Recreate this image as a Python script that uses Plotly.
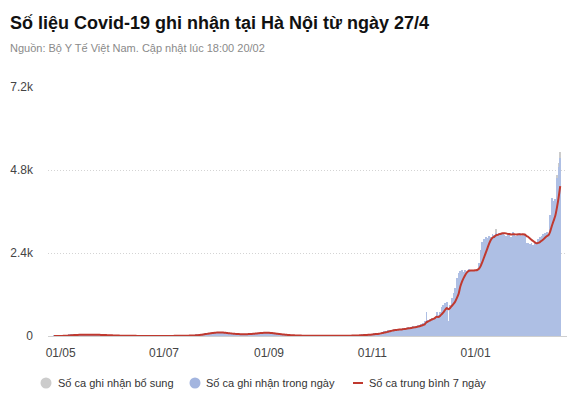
import pandas as pd
import plotly.graph_objects as go

# ---------------- DATA ----------------
start_date = "2021-04-27"

apr = [1, 0, 2, 3]
may = [6, 8, 12, 15, 25, 30, 35, 40, 32, 28, 35, 40, 30, 38, 45, 35, 30, 42, 38, 30,
       25, 35, 28, 30, 22, 25, 20, 18, 22, 15, 12]
jun = [10, 8, 12, 6, 8, 5, 4, 6, 3, 5, 2, 4, 3, 5, 2, 3, 1, 4, 2, 3,
       2, 1, 3, 2, 4, 1, 2, 3, 2, 1]
jul = [3, 2, 4, 5, 3, 6, 4, 8, 6, 10, 7, 12, 9, 14, 11, 18, 15, 22, 25, 30,
       45, 50, 60, 70, 75, 85, 90, 95, 100, 110, 105]
aug = [110, 100, 95, 90, 80, 75, 70, 65, 60, 55, 60, 50, 55, 50, 45, 55, 50, 60, 55, 65,
       70, 75, 80, 85, 90, 95, 100, 95, 105, 90, 85]
sep = [80, 70, 65, 55, 50, 45, 40, 35, 30, 28, 25, 20, 18, 15, 14, 12, 10, 9, 8, 10,
       7, 6, 8, 5, 6, 4, 7, 5, 3, 6]
oct_ = [4, 5, 3, 6, 4, 5, 7, 4, 6, 5, 8, 6, 7, 9, 8, 10, 12, 11, 14, 16,
        18, 20, 22, 25, 28, 30, 35, 38, 42, 45, 50]
nov = [60, 75, 85, 70, 90, 100, 120, 140, 150, 160, 170, 185, 180, 190, 170, 200, 210, 190, 230, 240,
       220, 250, 230, 260, 280, 270, 300, 310, 330, 350]
dec = [380, 420, 700, 450, 500, 520, 480, 560, 700, 620, 680, 850, 900, 950, 980, 420, 900, 1100, 1250, 1390,
       1670, 1820, 1880, 1900, 1850, 1900, 1870, 1950, 1900, 1880, 1920]
jan = [1900, 1950, 2100, 2490, 2730, 2800, 2850, 2830, 2880, 2850, 2950, 2920, 2980, 2960, 2990, 2940, 2970, 2930, 2900, 2980,
       2950, 2870, 3000, 2960, 2880, 2940, 2990, 2900, 2950, 2920, 2700]
feb = [2680, 2650, 2700, 2620, 2680, 2720, 2800, 2850, 2900, 2950, 2980, 3000, 2900, 3500, 3990, 3900, 3950, 4570, 4890, 5140]

# "bổ sung" (supplementary) cases
supp_dates = ["2022-01-13", "2022-02-18", "2022-02-19", "2022-02-20"]
supp_values = [100, 80, 120, 190]

x_tick_vals = ["2021-05-01", "2021-07-01", "2021-09-01", "2021-11-01", "2022-01-01"]
x_tick_text = ["01/05", "01/07", "01/09", "01/11", "01/01"]
y_tick_vals = [0, 2400, 4800, 7200]
y_tick_text = ["0", "2.4k", "4.8k", "7.2k"]

series_names = ["Số ca ghi nhận bổ sung", "Số ca ghi nhận trong ngày", "Số ca trung bình 7 ngày"]
title_text = "Số liệu Covid-19 ghi nhận tại Hà Nội từ ngày 27/4"
subtitle_text = "Nguồn: Bộ Y Tế Việt Nam. Cập nhật lúc 18:00 20/02"

# ---------------- DERIVED ----------------
daily = apr + may + jun + jul + aug + sep + oct_ + nov + dec + jan + feb
dates = pd.date_range(start_date, periods=len(daily), freq="D")
supp_map = dict(zip(pd.to_datetime(supp_dates), supp_values))
total = [d + supp_map.get(dt, 0) for d, dt in zip(daily, dates)]
avg7 = []
for i in range(len(total)):
    win = total[max(0, i - 6):i + 1]
    avg7.append(sum(win) / len(win))

# ---------------- STYLE / LAYOUT ----------------
W, H = 575, 398
L, R, T, B = 48, 8, 87, 62
PW, PH = W - L - R, H - T - B

def px(xp):
    return (xp - L) / PW

def py(yp):
    return (H - B - yp) / PH

BLUE = "#aebfe4"
GRAY = "#cccccc"
RED = "#c0392f"
FONT = "Liberation Sans, Arial, sans-serif"

fig = go.Figure()
fig.add_trace(go.Bar(x=dates, y=daily, name=series_names[1], marker=dict(color=BLUE, line=dict(width=0))))
fig.add_trace(go.Bar(x=pd.to_datetime(supp_dates), y=supp_values, name=series_names[0],
                     marker=dict(color=GRAY, line=dict(width=0))))
fig.add_trace(go.Scatter(x=dates, y=avg7, mode="lines", name=series_names[2],
                         line=dict(color=RED, width=2, shape="spline", smoothing=0.6)))

annotations = [
    dict(text="<b>" + title_text + "</b>", x=px(8), y=py(23), xref="paper", yref="paper",
         xanchor="left", yanchor="middle", showarrow=False,
         font=dict(family=FONT, size=18, color="#111")),
    dict(text=subtitle_text, x=px(8), y=py(48), xref="paper", yref="paper",
         xanchor="left", yanchor="middle", showarrow=False,
         font=dict(family=FONT, size=11, color="#8a8a8a")),
]
shapes = []
leg_y = 383
LEG_FONT = dict(family=FONT, size=11, color="#333")
# legend item 1: gray circle
shapes.append(dict(type="circle", xref="paper", yref="paper", x0=px(40.5), x1=px(51.5),
                   y0=py(leg_y + 5.5), y1=py(leg_y - 5.5), fillcolor=GRAY, line=dict(width=0)))
annotations.append(dict(text=series_names[0], x=px(56), y=py(leg_y), xref="paper", yref="paper",
                        xanchor="left", yanchor="middle", showarrow=False, font=LEG_FONT))
# legend item 2: blue circle
shapes.append(dict(type="circle", xref="paper", yref="paper", x0=px(189.5), x1=px(200.5),
                   y0=py(leg_y + 5.5), y1=py(leg_y - 5.5), fillcolor="#a3b5df", line=dict(width=0)))
annotations.append(dict(text=series_names[1], x=px(204), y=py(leg_y), xref="paper", yref="paper",
                        xanchor="left", yanchor="middle", showarrow=False, font=LEG_FONT))
# legend item 3: red line
shapes.append(dict(type="line", xref="paper", yref="paper", x0=px(353), x1=px(363),
                   y0=py(leg_y), y1=py(leg_y), line=dict(color=RED, width=2)))
annotations.append(dict(text=series_names[2], x=px(367), y=py(leg_y), xref="paper", yref="paper",
                        xanchor="left", yanchor="middle", showarrow=False, font=LEG_FONT))

fig.update_layout(
    width=W, height=H, margin=dict(l=L, r=R, t=T, b=B, pad=0),
    autosize=False,
    plot_bgcolor="white", paper_bgcolor="white",
    barmode="stack", bargap=0.5, showlegend=False,
    font=dict(family=FONT, size=12, color="#444"),
    annotations=annotations, shapes=shapes,
    xaxis=dict(type="date", range=["2021-04-23 12:00", "2022-02-24"],
               tickvals=x_tick_vals, ticktext=x_tick_text, showgrid=False,
               showline=True, linecolor="#cfcfcf", linewidth=1, ticks="",
               tickfont=dict(family=FONT, size=12, color="#444"), ticklabelstandoff=6),
    yaxis=dict(range=[0, 7200], tickvals=y_tick_vals, ticktext=y_tick_text,
               showgrid=True, gridcolor="#d4d4d4", griddash="1px,2px", gridwidth=1,
               zeroline=False, ticks="", ticklabelstandoff=14,
               tickfont=dict(family=FONT, size=12, color="#444")),
)

fig.write_html("out.html", config={"displayModeBar": False},
               post_script="document.body.style.margin='0';document.body.style.overflow='hidden';")
